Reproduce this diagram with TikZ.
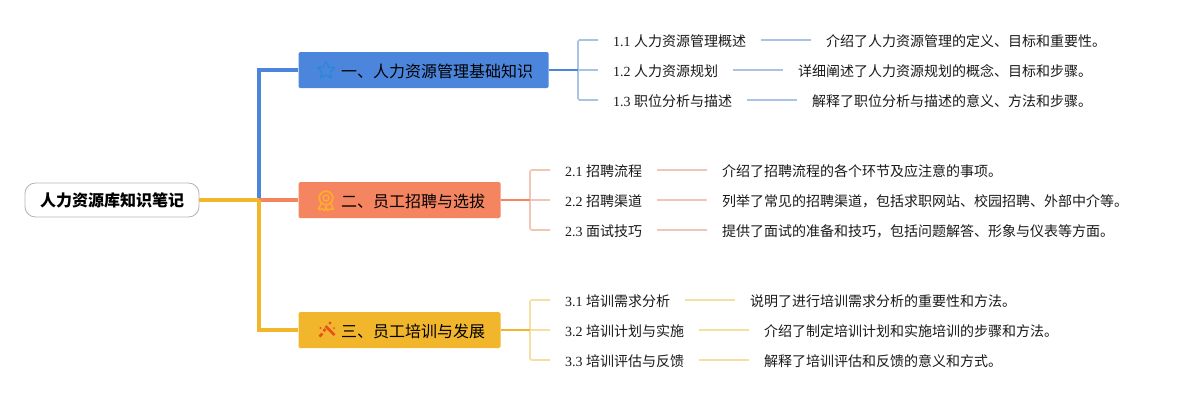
\documentclass[tikz,border=0pt]{standalone}
\usepackage{fontspec}
\setmainfont{Liberation Serif}
\newfontfamily\cjk{Noto Sans CJK SC}
\definecolor{cblue}{HTML}{4C86DC}
\definecolor{csal}{HTML}{F58561}
\definecolor{cyel}{HTML}{F2B62D}
\definecolor{lblue}{HTML}{A9C3E6}
\definecolor{lsal}{HTML}{F2C6B6}
\definecolor{lyel}{HTML}{F5DFA3}
\definecolor{txt}{HTML}{1A1A1A}
\definecolor{istar}{HTML}{2A86D8}
\definecolor{imedal}{HTML}{FFAE2A}
\definecolor{iwand}{HTML}{E8501E}
\tikzset{
 x=1pt,y=-1pt,
 rootbox/.style={draw=black!28,rounded corners=10.5pt,line width=.9pt,fill=white,minimum width=174pt,minimum height=34pt,inner sep=0pt,font=\fontsize{16}{16}\selectfont\cjk\bfseries,text=black},
 topic/.style={rounded corners=1.5pt,minimum height=36pt,inner sep=0pt,text=black,align=left,font=\fontsize{16}{16}\selectfont\cjk},
 topictext/.style={topic,anchor=west,text height=16.5pt,text depth=1pt},
 sub/.style={anchor=west,inner xsep=15pt,inner ysep=0pt,minimum height=20pt,text height=13pt,text depth=1pt,text=txt,font=\fontsize{14}{14}\selectfont},
 desc/.style={sub,font=\fontsize{14}{14}\selectfont\cjk},
 trunk/.style={line width=3.6pt},
 twig/.style={line width=1.6pt,rounded corners=1.5pt},
 link/.style={line width=1.6pt},
}
\begin{document}
\begin{tikzpicture}
\useasboundingbox (0,0) rectangle (1188,400);
\fill[white] (0,0) rectangle (1188,400);
\coordinate (hub) at (259,200);
\node[rootbox] (root) at (112,200) {人力资源库知识笔记};
\node[topic,fill=cblue,minimum width=250pt] (t1) at (423.5,70) {};
\node[topic,fill=csal,minimum width=202pt] (t2) at (399.5,200) {};
\node[topic,fill=cyel,minimum width=202pt] (t3) at (399.5,330) {};
\node[topictext] (tt1) at (341,70) {一、人力资源管理基础知识};
\node[topictext] (tt2) at (341,200) {二、员工招聘与选拔};
\node[topictext] (tt3) at (341,330) {三、员工培训与发展};
% trunk
\draw[trunk,cblue,line join=miter] (hub) |- (t1.west);
\draw[trunk,csal] (hub) -- (t2.west);
\draw[trunk,cyel,line width=4pt] (root.east) -- (hub);
\draw[trunk,cyel] (hub) |- (t3.west);
% sublabels
\node[sub] (a1) at (598,40) {1.1 {\cjk 人力资源管理概述}};
\node[sub] (a2) at (598,70) {1.2 {\cjk 人力资源规划}};
\node[sub] (a3) at (598,100) {1.3 {\cjk 职位分析与描述}};
\node[desc] (da1) at (811,40) {介绍了人力资源管理的定义、目标和重要性。};
\node[desc] (da2) at (783,70) {详细阐述了人力资源规划的概念、目标和步骤。};
\node[desc] (da3) at (797,100) {解释了职位分析与描述的意义、方法和步骤。};
\node[sub] (b1) at (550,170) {2.1 {\cjk 招聘流程}};
\node[sub] (b2) at (550,200) {2.2 {\cjk 招聘渠道}};
\node[sub] (b3) at (550,230) {2.3 {\cjk 面试技巧}};
\node[desc] (db1) at (707,170) {介绍了招聘流程的各个环节及应注意的事项。};
\node[desc] (db2) at (707,200) {列举了常见的招聘渠道，包括求职网站、校园招聘、外部中介等。};
\node[desc] (db3) at (707,230) {提供了面试的准备和技巧，包括问题解答、形象与仪表等方面。};
\node[sub] (c1) at (550,300) {3.1 {\cjk 培训需求分析}};
\node[sub] (c2) at (550,330) {3.2 {\cjk 培训计划与实施}};
\node[sub] (c3) at (550,360) {3.3 {\cjk 培训评估与反馈}};
\node[desc] (dc1) at (735,300) {说明了进行培训需求分析的重要性和方法。};
\node[desc] (dc2) at (749,330) {介绍了制定培训计划和实施培训的步骤和方法。};
\node[desc] (dc3) at (749,360) {解释了培训评估和反馈的意义和方式。};
% brackets
\coordinate (ja) at (578,70);
\coordinate (jb) at (530,200);
\coordinate (jc) at (530,330);
\draw[twig,lblue] (a1.west) -| (ja) |- (a3.west);
\draw[link,lblue] (ja) -- (a2.west);
\draw[link,cblue] (t1.east) -- (ja);
\draw[twig,lsal] (b1.west) -| (jb) |- (b3.west);
\draw[link,lsal] (jb) -- (b2.west);
\draw[link,csal] (t2.east) -- (jb);
\draw[twig,lyel] (c1.west) -| (jc) |- (c3.west);
\draw[link,lyel] (jc) -- (c2.west);
\draw[link,cyel] (t3.east) -- (jc);
\foreach \p/\q in {a1/da1,a2/da2,a3/da3}\draw[link,lblue] (\p.east) -- (\q.west);
\foreach \p/\q in {b1/db1,b2/db2,b3/db3}\draw[link,lsal] (\p.east) -- (\q.west);
\foreach \p/\q in {c1/dc1,c2/dc2,c3/dc3}\draw[link,lyel] (\p.east) -- (\q.west);
% icons
\draw[istar,line width=1.4pt,line join=round]
 (326,61.5) -- (328.6,67) -- (334.5,67.8) -- (330.2,71.9) -- (331.3,77.8) -- (326,75) -- (320.7,77.8) -- (321.8,71.9) -- (317.5,67.8) -- (323.4,67) -- cycle;
\draw[imedal,line width=1.6pt] (326,198) circle (6.8pt);
\draw[imedal,line width=1.3pt] (326,198) circle (3pt);
\draw[imedal,line width=1.5pt,line join=round] (321,203.5) -- (318.5,209.5) -- (322.5,209) -- (324.5,210.5) -- (326,206.5) -- (327.5,210.5) -- (329.5,209) -- (333.5,209.5) -- (331,203.5);
\draw[iwand,line width=2.6pt] (325.5,326) -- (334.5,335);
\draw[iwand,line width=2.6pt] (319.5,336.5) -- (322.5,333.5);
\draw[iwand,line width=2.6pt] (323.5,331) -- (325.5,329);
\fill[iwand] (320.5,328) circle (1.2pt) (330,323) circle (1.7pt) (334,328) circle (1pt);
\end{tikzpicture}
\end{document}
